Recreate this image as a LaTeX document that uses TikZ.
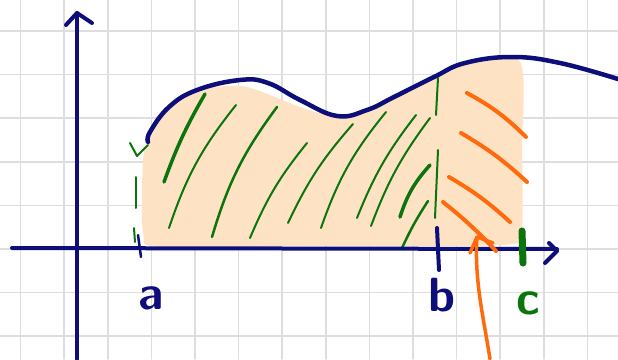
\documentclass[tikz,border=0pt]{standalone}
\usepackage{xcolor}
\usetikzlibrary{math}
\definecolor{navy}{RGB}{14,14,122}
\definecolor{hgreen}{RGB}{12,116,12}
\definecolor{horange}{RGB}{255,106,12}
\definecolor{peach}{RGB}{253,227,196}
\definecolor{gridgray}{RGB}{222,222,222}

\begin{document}
\begin{tikzpicture}[x=1pt,y=-1pt,line cap=round,line join=round]
\tikzmath{
\G=43.6;
\W=618;
\H=359;
}
\fill[white] (0,0) rectangle (\W,\H);
\useasboundingbox (0,0) rectangle (\W,\H);

\foreach \i in {0,...,13} \draw[gridgray, line width=1.5] (20.6+\G*\i,0) -- ++(0,\H);
\foreach \j in {0,...,7} \draw[gridgray, line width=1.5] (0,31+\G*\j) -- ++(\W,0);

\fill[peach] plot[smooth cycle, tension=0.5] coordinates {(143,160) (149,140) (166,112) (190,91) (240,86) (275,97) (300,107) (335,116) (370,108) (400,95) (440,76) (470,63) (520,62) (522,150) (522,230) (512,244) (420,246) (300,246) (160,247) (143,232)};

\draw[hgreen, line width=3.5] (164,182) to[bend left=5] (205,94);
\draw[hgreen, line width=2] (169,228) to[bend left=10] (236,105);
\draw[hgreen, line width=2.5] (212,237) to[bend left=10] (277,107);
\draw[hgreen, line width=2] (250,238) to[bend left=8] (307,143);
\draw[hgreen, line width=2] (288,223) to[bend left=8] (353,124);
\draw[hgreen, line width=2] (321,228) to[bend left=10] (386,112);
\draw[hgreen, line width=2] (357,218) to[bend left=8] (416,115);
\draw[hgreen, line width=2] (371,226) to[bend left=8] (430,118);
\draw[hgreen, line width=3.5] (400,217) to[bend left=12] (430,165);
\draw[hgreen, line width=2.5] (402,248) to[bend left=4] (428,201);
\draw[hgreen, line width=2] (436,115) -- (438,78);
\draw[hgreen, line width=2] (435,218) -- (438,150);

\draw[hgreen, line width=2] (130,143) -- (137,156) -- (148,145);
\draw[hgreen, line width=2] (136,177) -- (136,208);
\draw[hgreen, line width=2] (134,228) -- (135,242);

\draw[navy, line width=4] (12,248) -- (557,249);
\draw[navy, line width=4] (549,243) -- (557,251) -- (545,263);
\draw[navy, line width=4] (77,359) -- (77,13);
\draw[navy, line width=4] (66,25) -- (77,13) -- (92,23);

\draw[navy, line width=4.5] plot[smooth, tension=0.7] coordinates {(148,142) (150,132) (169,107) (197,90) (240,80) (268,83) (300,100) (337,116) (367,110) (394,97) (434,77) (465,63) (512,57) (560,63) (618,79)};

\draw[horange, line width=4] (467,93) to[bend left=8] (526,137);
\draw[horange, line width=4] (461,133) to[bend left=6] (527,182);
\draw[horange, line width=4] (449,177) to[bend left=6] (510,222);
\draw[horange, line width=4] (443,202) to[bend left=4] (496,251);

\draw[navy, line width=2.5] (138,235) -- (141,257);
\draw[navy, line width=4] (437,228) -- (439,270);
\draw[hgreen, line width=7] (522,231) -- (523,263);

\node[navy, font=\fontsize{48}{48}\selectfont\sffamily\bfseries] (a) at (151,298) {a};
\node[navy, font=\fontsize{48}{48}\selectfont\sffamily\bfseries] (b) at (442,295) {b};
\node[hgreen, font=\fontsize{48}{48}\selectfont\sffamily\bfseries] (c) at (528,303) {c};

\draw[horange, line width=3.5] (490,359) .. controls (484,320) and (474,280) .. (477,237);
\draw[horange, line width=3.5] (470,253) -- (477,237) -- (493,243);
\end{tikzpicture}
\end{document}
